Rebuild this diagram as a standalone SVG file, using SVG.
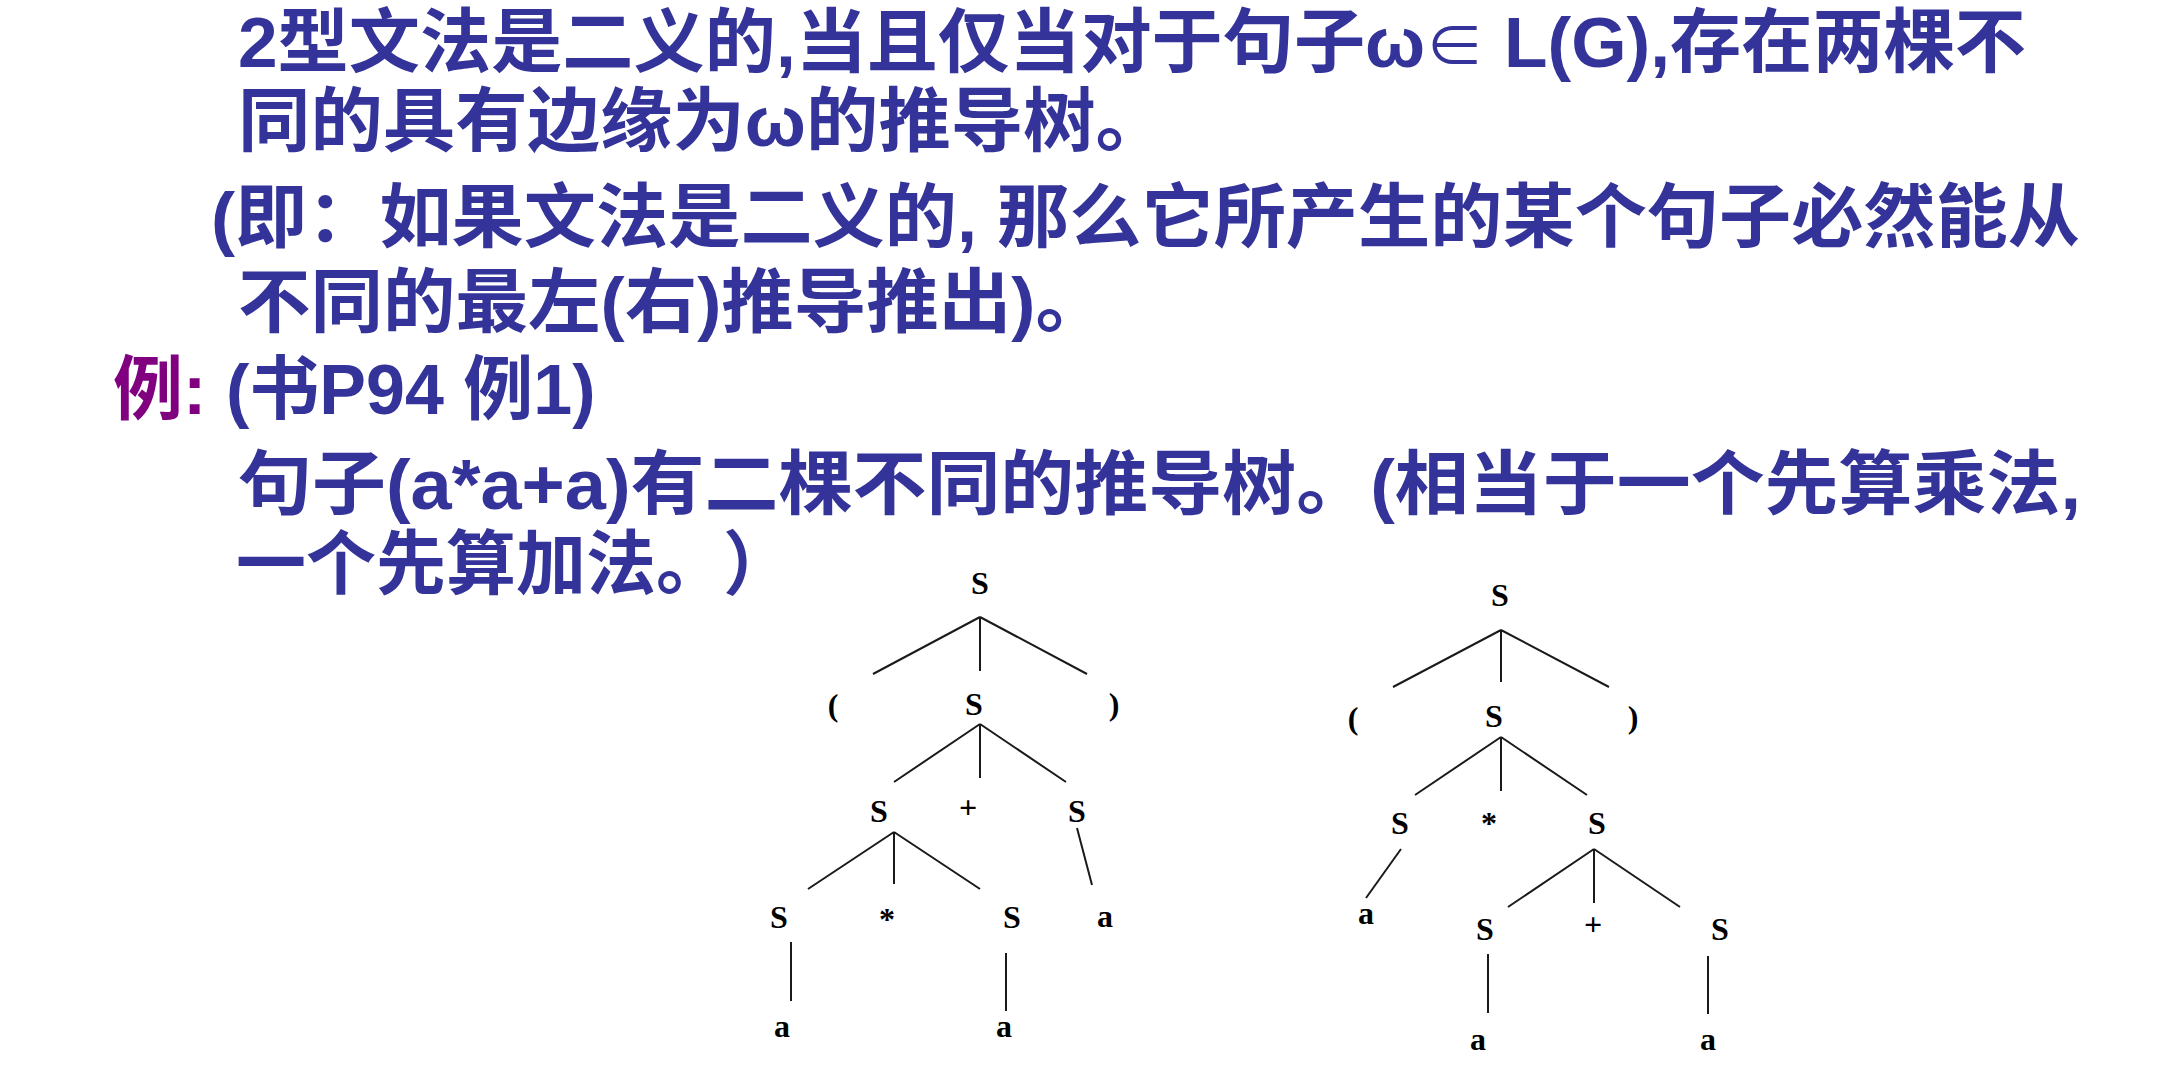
<svg xmlns="http://www.w3.org/2000/svg" width="2160" height="1077" viewBox="0 0 2160 1077">
<style>
.t{font-family:"Liberation Sans","Noto Sans CJK SC",sans-serif;font-weight:bold;font-size:70px;fill:#333399}
.p{fill:#800080}
.n{font-family:"Liberation Serif","DejaVu Serif",serif;font-weight:bold;font-size:32px;fill:#000;text-anchor:middle}
.e{stroke:#1a1a1a;stroke-width:2;fill:none}
</style>
<rect width="2160" height="1077" fill="#fff"/>
<g id="text">
<text class="t" x="238" y="67" textLength="1788" lengthAdjust="spacingAndGlyphs">2型文法是二义的,当且仅当对于句子ω<tspan font-weight="normal" font-size="58">∈</tspan> L(G),存在两棵不</text>
<text class="t" x="238" y="146" textLength="930" lengthAdjust="spacingAndGlyphs">同的具有边缘为ω的推导树。</text>
<text class="t" x="211" y="242" textLength="1869" lengthAdjust="spacingAndGlyphs">(即：如果文法是二义的, 那么它所产生的某个句子必然能从</text>
<text class="t" x="238" y="327" textLength="870" lengthAdjust="spacingAndGlyphs">不同的最左(右)推导推出)。</text>
<text class="t p" x="113" y="414">例:</text>
<text class="t" x="226" y="414">(书P94 例1)</text>
<text class="t" x="238" y="509" textLength="1843" lengthAdjust="spacingAndGlyphs">句子(a*a+a)有二棵不同的推导树。(相当于一个先算乘法,</text>
<text class="t" x="236" y="589">一个先算加法。<tspan dx="32">）</tspan></text>
</g>
<g id="tree1">
<text class="n" x="980" y="594">S</text>
<text class="n" x="833" y="716">(</text>
<text class="n" x="974" y="715">S</text>
<text class="n" x="1114" y="715">)</text>
<text class="n" x="879" y="822">S</text>
<text class="n" x="968" y="818">+</text>
<text class="n" x="1077" y="822">S</text>
<text class="n" x="779" y="928">S</text>
<text class="n" x="887" y="930">*</text>
<text class="n" x="1012" y="928">S</text>
<text class="n" x="1105" y="927">a</text>
<text class="n" x="782" y="1037">a</text>
<text class="n" x="1004" y="1037">a</text>
</g>
<g id="tree2">
<text class="n" x="1500" y="606">S</text>
<text class="n" x="1353" y="729">(</text>
<text class="n" x="1494" y="727">S</text>
<text class="n" x="1633" y="728">)</text>
<text class="n" x="1400" y="834">S</text>
<text class="n" x="1489" y="834">*</text>
<text class="n" x="1597" y="834">S</text>
<text class="n" x="1366" y="924">a</text>
<text class="n" x="1485" y="940">S</text>
<text class="n" x="1593" y="935">+</text>
<text class="n" x="1720" y="940">S</text>
<text class="n" x="1478" y="1050">a</text>
<text class="n" x="1708" y="1050">a</text>
</g>
<g id="connectors" class="e">
<path class="e" d="M980 617L873 674M980 617V671M980 617L1087 674"/>
<path class="e" d="M980 724L894 782M980 724V778M980 724L1066 782"/>
<path class="e" d="M894 832L808 889M894 832V884M894 832L980 889"/>
<path class="e" d="M1077 828L1092 885"/>
<path class="e" d="M791 942V1001M1006 953V1011"/>
<path class="e" d="M1501 630L1393 687M1501 630V682M1501 630L1609 687"/>
<path class="e" d="M1501 737L1415 795M1501 737V791M1501 737L1587 795"/>
<path class="e" d="M1401 849L1366 898"/>
<path class="e" d="M1594 849L1508 907M1594 849V903M1594 849L1680 907"/>
<path class="e" d="M1488 954V1013M1708 956V1014"/>
</g>
</svg>
